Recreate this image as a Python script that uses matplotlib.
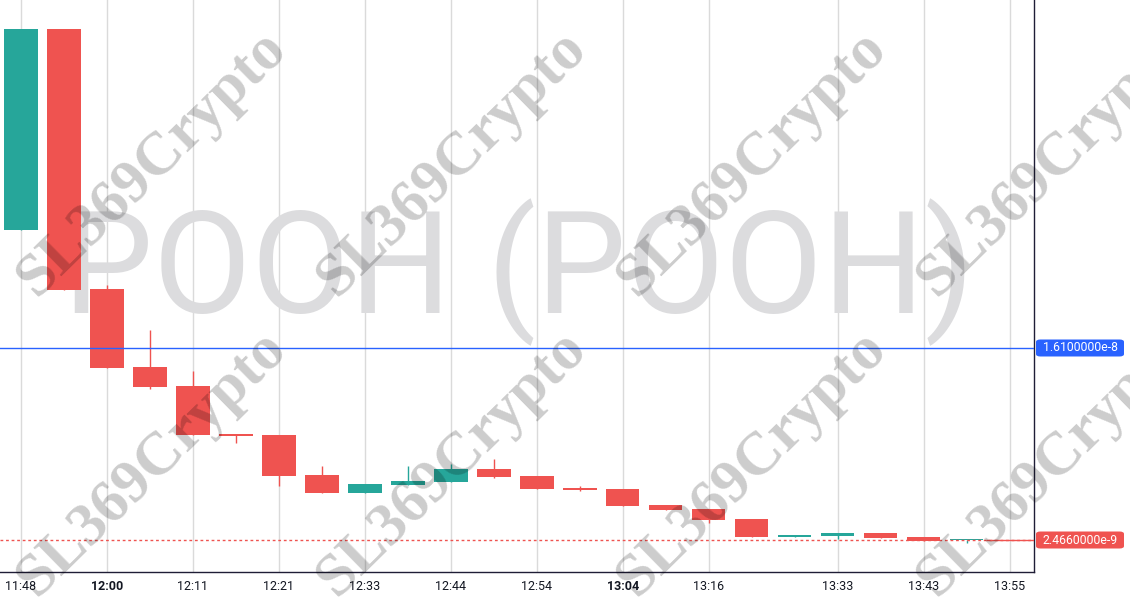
import matplotlib
matplotlib.use("Agg")
import matplotlib.pyplot as plt
from matplotlib.patches import FancyBboxPatch
import numpy as np

# ---- data (prices in units of 1e-9) ----
opens  = [24.48, 38.75, 20.29, 14.75, 13.40, 9.99, 9.92, 7.08, 5.80, 6.37, 6.59, 7.51,
          7.01, 6.16, 6.09, 4.95, 4.67, 3.96, 2.68, 2.75, 2.96, 2.68, 2.45]
highs  = [38.75, 38.75, 20.57, 17.38, 14.47, 9.99, 9.92, 7.72, 6.44, 7.72, 7.86, 8.22,
          7.01, 6.30, 6.09, 4.95, 4.67, 3.96, 2.82, 2.96, 2.96, 2.68, 2.466]
lows   = [24.48, 20.22, 14.68, 13.19, 9.92, 9.35, 6.30, 5.80, 5.80, 6.37, 6.59, 6.87,
          6.09, 5.95, 4.88, 4.60, 3.67, 2.68, 2.68, 2.54, 2.61, 2.40, 2.25]
closes = [38.75, 20.22, 14.68, 13.33, 9.92, 9.85, 7.01, 5.80, 6.44, 6.66, 7.51, 6.94,
          6.09, 6.02, 4.88, 4.60, 3.89, 2.68, 2.82, 2.96, 2.61, 2.40, 2.466]
price_scale = 1e-9

tick_positions = [0, 2, 4, 6, 8, 10, 12, 14, 16, 19, 21, 23]
tick_labels = ["11:48", "12:00", "12:11", "12:21", "12:33", "12:44", "12:54",
               "13:04", "13:16", "13:33", "13:43", "13:55"]
bold_labels = ["12:00", "13:04"]

ref_level = 1.61e-8
ref_label = "1.6100000e-8"
last_label = "2.4660000e-9"
title_watermark = "POOH (POOH)"
brand = "SL369Crypto"

UP = "#26a69a"
DOWN = "#ef5350"
BLUE = "#2962ff"
AXIS = "#1f1d36"
TXT = "#131722"

o = np.array(opens) * price_scale
h = np.array(highs) * price_scale
l = np.array(lows) * price_scale
c = np.array(closes) * price_scale
x = np.arange(len(o))

W, H = 1130, 600
fig = plt.figure(figsize=(W / 100, H / 100), dpi=100)
fig.patch.set_facecolor("white")
ax = fig.add_axes([0, 28 / H, 1034 / W, 572 / H])

ylo, yhi = 0.194e-9, 40.81e-9
ax.set_xlim(-0.488, 23.56)
ax.set_ylim(ylo, yhi)
px = (yhi - ylo) / 572.0

# grid
for t in tick_positions:
    ax.axvline(t, color="#dadada", lw=1, zorder=0)

# big name watermark
ax.text(0.502, (572 - 272) / 572, title_watermark, transform=ax.transAxes,
        ha="center", va="center", fontsize=103, family="Roboto", color="#dcdcde", zorder=0.5)

# candles
colors = [UP if cc >= oo else DOWN for oo, cc in zip(o, c)]
bottoms = np.minimum(o, c)
heights = np.maximum(np.abs(c - o), px)
ax.vlines(x, l, h, colors=colors, lw=1, zorder=2)
ax.bar(x, heights, bottom=bottoms, width=0.77, color=colors, linewidth=0, zorder=3)

# reference lines
ax.axhline(ref_level, color=BLUE, lw=1, zorder=4)
ax.axhline(c[-1], color=DOWN, lw=1, ls=(0, (2, 2)), zorder=4)
ax.hlines(c[-1], x[-1] + 0.45, 23.56, colors=DOWN, lw=1, zorder=4)

# axes style
for s in ["top", "left"]:
    ax.spines[s].set_visible(False)
for s in ["right", "bottom"]:
    ax.spines[s].set_color(AXIS)
    ax.spines[s].set_linewidth(1)
ax.set_yticks([])
ax.set_xticks(tick_positions)
ax.set_xticklabels(tick_labels, family="Roboto", fontsize=9, color=TXT)
for lab in ax.get_xticklabels():
    if lab.get_text() in bold_labels:
        lab.set_fontweight("bold")
ax.tick_params(axis="x", length=0, pad=6)

# price labels on the right scale
fig.canvas.draw()
for val, txt, col in [(ref_level, ref_label, BLUE), (c[-1], last_label, DOWN)]:
    yd = ax.transData.transform((0, val))[1]
    box = FancyBboxPatch((1036 / W, (yd - 8.5) / H), 88 / W, 17 / H,
                         boxstyle="round,pad=0,rounding_size=0.004",
                         transform=fig.transFigure, facecolor=col, edgecolor="none",
                         zorder=5)
    fig.patches.append(box)
    fig.text(1080 / W, yd / H, txt, ha="center", va="center", color="white",
             fontsize=8.8, family="Roboto", zorder=6)

# brand watermarks
for cy in [163, 463]:
    for cx in [152, 452, 752, 1052]:
        fig.text(cx / W, 1 - cy / H, brand, rotation=44.5, rotation_mode="anchor",
                 ha="center", va="center", fontsize=44, fontweight="bold",
                 family="Liberation Serif", color="black", alpha=0.2, zorder=10)

fig.savefig("out.png", dpi=100)
